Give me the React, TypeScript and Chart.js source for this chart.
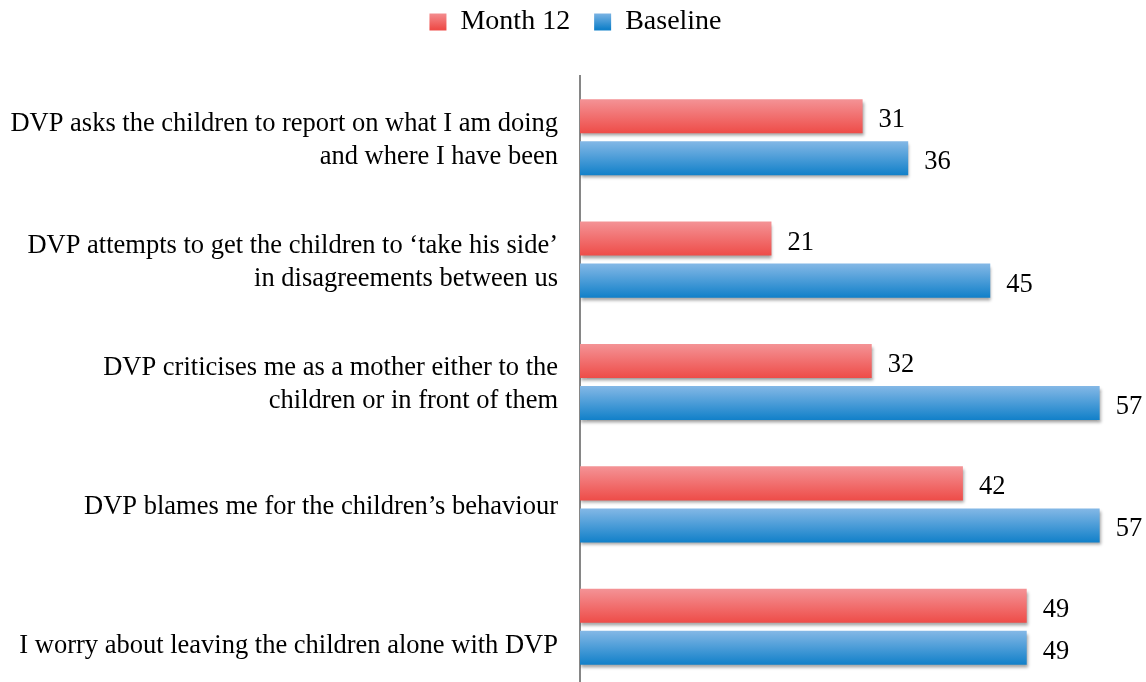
import React, { useEffect, useRef } from "react";
import { Chart, registerables } from "chart.js";

Chart.register(...registerables);

const categories: (string | string[])[] = [
  ["DVP asks the children to report on what I am doing", "and where I have been"],
  ["DVP attempts to get the children to \u2018take his side\u2019", "in disagreements between us"],
  ["DVP criticises me as a mother either to the", "children or in front of them"],
  "DVP blames me for the children\u2019s behaviour",
  ["", "I worry about leaving the children alone with DVP"],
];
const seriesNames = ["Month 12", "Baseline"];
const month12 = [31, 21, 32, 42, 49];
const baseline = [36, 45, 57, 57, 49];
const axisMin = 0;
const axisMax = 60;

const FONT = "'Liberation Serif', serif";
const FS = 26.5;
const LEGEND_FS = 28;
const RED = ["#F49396", "#EE4C48"];
const BLUE = ["#84B8E6", "#1180C9"];

const gradientPlugin = {
  id: "barGradient",
  beforeDatasetsDraw(chart: any) {
    const ctx = chart.ctx;
    chart.data.datasets.forEach((_ds: any, di: number) => {
      const meta = chart.getDatasetMeta(di);
      const stops = di === 0 ? RED : BLUE;
      meta.data.forEach((el: any) => {
        const top = el.y - el.height / 2;
        const bottom = el.y + el.height / 2;
        const g = ctx.createLinearGradient(0, top, 0, bottom);
        g.addColorStop(0, stops[0]);
        g.addColorStop(1, stops[1]);
        if (!el.$origOptions) el.$origOptions = el.options;
        const o = Object.create(el.$origOptions);
        o.backgroundColor = g;
        el.options = o;
      });
    });
    ctx.save();
    ctx.shadowColor = "rgba(0,0,0,0.35)";
    ctx.shadowBlur = 3;
    ctx.shadowOffsetX = 1;
    ctx.shadowOffsetY = 3;
  },
  afterDatasetsDraw(chart: any) {
    chart.ctx.restore();
  },
  afterDraw(chart: any) {
    const ctx = chart.ctx;
    ctx.save();
    ctx.font = `${FS}px ${FONT}`;
    ctx.fillStyle = "#000";
    ctx.textBaseline = "middle";
    ctx.textAlign = "left";
    chart.data.datasets.forEach((ds: any, di: number) => {
      chart.getDatasetMeta(di).data.forEach((el: any, i: number) => {
        ctx.fillText(String(ds.data[i]), el.x + 16, el.y + 4);
      });
    });
    ctx.restore();
  },
};

const legendSpacePlugin = {
  id: "legendSpace",
  beforeInit(chart: any) {
    const legend = chart.legend;
    if (legend && !legend.$patched) {
      const fit = legend.fit;
      legend.fit = function () {
        fit.call(this);
        this.height = 76;
      };
      legend.$patched = true;
    }
  },
  afterLayout(chart: any) {
    const legend = chart.legend;
    if (legend) {
      legend.top = -16;
      legend.bottom = legend.top + legend.height;
      legend.left += 12;
      legend.right += 12;
    }
  },
};

export default function App() {
  const ref = useRef<HTMLCanvasElement | null>(null);
  useEffect(() => {
    if (!ref.current) return;
    const legendGrad = (ctx: CanvasRenderingContext2D, stops: string[]) => {
      const g = ctx.createLinearGradient(0, 12, 0, 29);
      g.addColorStop(0, stops[0]);
      g.addColorStop(1, stops[1]);
      return g;
    };
    const chart = new Chart(ref.current, {
      type: "bar",
      data: {
        labels: categories,
        datasets: [
          { label: seriesNames[0], data: month12, backgroundColor: RED[1] },
          { label: seriesNames[1], data: baseline, backgroundColor: BLUE[1] },
        ],
      },
      options: {
        indexAxis: "y",
        responsive: false,
        animation: false,
        devicePixelRatio: 1,
        categoryPercentage: 0.687,
        barPercentage: 0.81,
        layout: { padding: { left: 0, right: 19, top: 0, bottom: 2 } },
        plugins: {
          tooltip: { enabled: false },
          legend: {
            position: "top",
            labels: {
              font: { family: FONT, size: LEGEND_FS },
              color: "#000",
              boxWidth: 17,
              boxHeight: 17,
              padding: 24,
              generateLabels: (c: any) => {
                return c.data.datasets.map((ds: any, i: number) => ({
                  text: ds.label,
                  fillStyle: legendGrad(c.ctx, i === 0 ? RED : BLUE),
                  strokeStyle: "rgba(0,0,0,0)",
                  lineWidth: 0,
                  hidden: false,
                  datasetIndex: i,
                  fontColor: "#000",
                }));
              },
            },
          },
        },
        scales: {
          x: { display: false, min: axisMin, max: axisMax },
          y: {
            grid: { display: false, drawTicks: false },
            border: { display: true, color: "#868686", width: 2 },
            ticks: {
              color: "#000",
              font: { family: FONT, size: FS, lineHeight: 1.245 },
              padding: 22,
              labelOffset: 3,
            },
            afterFit: (s: any) => {
              s.width = 580;
              s.paddingTop = 0;
              s.paddingBottom = 0;
            },
          },
        },
      },
      plugins: [gradientPlugin, legendSpacePlugin],
    });
    return () => chart.destroy();
  }, []);
  return (
    <div style={{ position: "absolute", left: 0, top: 0, width: 1146, height: 690, background: "#fff" }}>
      <canvas ref={ref} width={1146} height={690} />
    </div>
  );
}
